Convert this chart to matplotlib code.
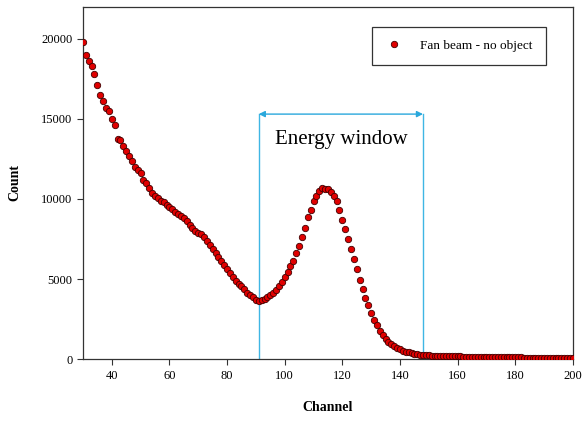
import matplotlib
matplotlib.use("Agg")
import matplotlib.pyplot as plt

# spectrum, one value per channel (30..200)
channels = list(range(30, 201))
counts = [
    19800, 19000, 18600, 18300, 17800, 17100, 16500, 16100, 15700, 15500,
    15000, 14600, 13750, 13700, 13300, 13000, 12700, 12400, 12000, 11800,
    11600, 11200, 11000, 10700, 10400, 10200, 10050, 9850, 9800, 9650,
    9500, 9400, 9200, 9050, 8950, 8800, 8600, 8350, 8200, 8000,
    7900, 7800, 7600, 7400, 7100, 6850, 6600, 6350, 6100, 5850,
    5650, 5400, 5150, 4900, 4700, 4550, 4350, 4150, 4000, 3850,
    3700, 3620, 3700, 3750, 3900, 4000, 4150, 4300, 4550, 4800,
    5150, 5450, 5800, 6150, 6600, 7050, 7600, 8200, 8900, 9300,
    9850, 10200, 10500, 10700, 10650, 10600, 10450, 10200, 9850, 9300,
    8700, 8150, 7500, 6900, 6250, 5600, 4950, 4350, 3800, 3350,
    2850, 2450, 2100, 1750, 1500, 1250, 1080, 940, 820, 700,
    610, 530, 470, 420, 380, 340, 310, 280, 260, 245,
    235, 225, 215, 205, 200, 195, 190, 185, 180, 175,
    170, 165, 160, 158, 155, 150, 148, 145, 140, 138,
    135, 130, 128, 125, 122, 120, 118, 115, 112, 110,
    108, 105, 102, 100, 98, 96, 94, 92, 90, 88,
    86, 84, 82, 80, 78, 76, 74, 72, 70, 68,
    65,
]

window_lo, window_hi = 91, 148
window_top = 15300
series_label = "Fan beam - no object"
window_label = "Energy window"

plt.rcParams["font.family"] = ["Liberation Serif", "DejaVu Serif"]

fig = plt.figure(figsize=(5.84, 4.25), dpi=100)
ax = fig.add_axes([0.142, 0.155, 0.839, 0.829])

ax.plot(channels, counts, linestyle="none", marker="o", markersize=4.6,
        markerfacecolor="#e00000", markeredgecolor="#400000",
        markeredgewidth=0.6, label=series_label, zorder=3)

# energy window markers
blue = "#3fb6e4"
ax.plot([window_lo, window_lo], [0, window_top], color=blue, lw=1.0, zorder=2)
ax.plot([window_hi, window_hi], [0, window_top], color=blue, lw=1.0, zorder=2)
ax.annotate("", xy=(window_lo, window_top), xytext=(window_hi, window_top),
            arrowprops=dict(arrowstyle="<|-|>", color="#2aa8dc", lw=1.0,
                            mutation_scale=9, shrinkA=0, shrinkB=0))
ax.text((window_lo + window_hi) / 2, 13700, window_label, fontsize=15,
        ha="center", va="center")

ax.set_xlim(30, 200)
ax.set_ylim(0, 22000)
ax.set_xticks([40, 60, 80, 100, 120, 140, 160, 180, 200])
ax.set_yticks([0, 5000, 10000, 15000, 20000])
ax.tick_params(labelsize=9, length=4, width=0.8, color="#333333")
ax.set_xlabel("Channel", fontsize=10, fontweight="bold", labelpad=14)
ax.set_ylabel("Count", fontsize=10, fontweight="bold", labelpad=14)
for s in ax.spines.values():
    s.set_color("#333333")
    s.set_linewidth(0.9)

leg = ax.legend(loc="upper right", bbox_to_anchor=(0.945, 0.944), fontsize=9.5,
                fancybox=False, framealpha=1, edgecolor="#333333",
                handletextpad=1.3, borderpad=1.0, borderaxespad=0.0,
                handlelength=1.4)
leg.get_frame().set_linewidth(0.9)

fig.savefig("out.png", dpi=100)
